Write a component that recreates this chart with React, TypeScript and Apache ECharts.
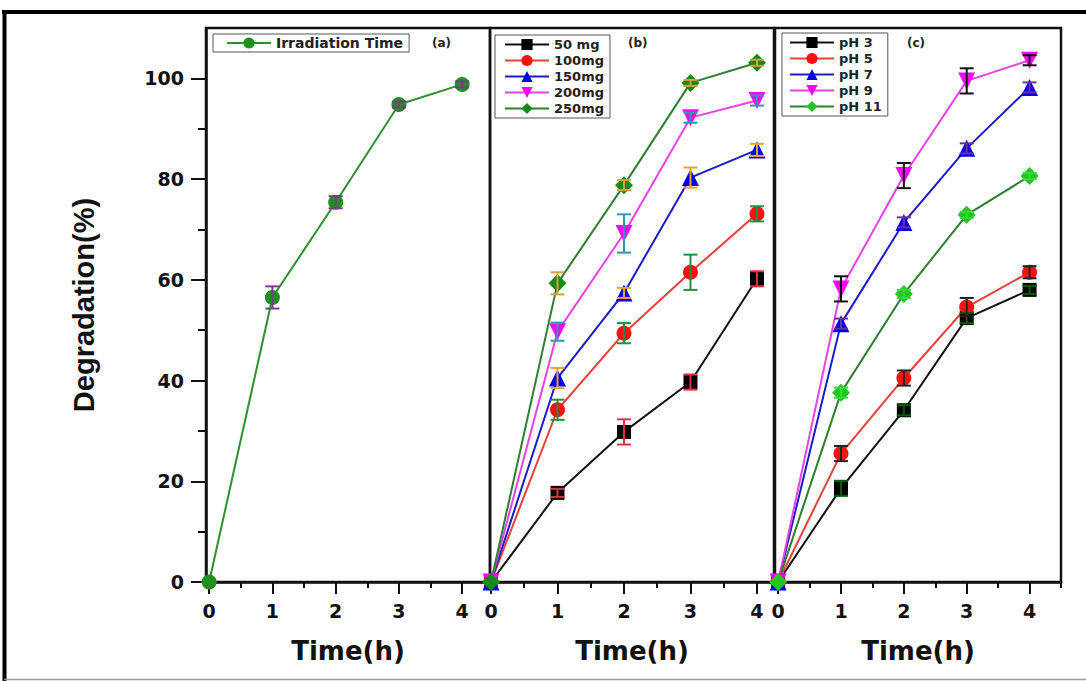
import { useEffect, useRef } from "react";
import * as echarts from "echarts";

// ---- data ----
const timeHours = [0, 1, 2, 3, 4];

// (a) effect of irradiation time
const irradiation = [0, 56.5, 75.4, 94.8, 98.8];
const irradiationErr = [0, 2.2, 1.2, 0.6, 0.6];

// (b) effect of catalyst dose
const doseNames = ["50 mg", "100mg", "150mg", "200mg", "250mg"];
const dose50 = [0, 17.7, 29.8, 39.7, 60.2];
const dose50Err = [0, 0.8, 2.5, 1.5, 1.5];
const dose100 = [0, 34.2, 49.4, 61.5, 73.1];
const dose100Err = [0, 2.0, 2.0, 3.5, 1.5];
const dose150 = [0, 40.5, 57.4, 80.3, 85.8];
const dose150Err = [0, 2.0, 1.0, 2.0, 1.2];
const dose200 = [0, 49.7, 69.2, 92.2, 95.6];
const dose200Err = [0, 1.8, 3.8, 1.0, 1.0];
const dose250 = [0, 59.3, 78.8, 99.1, 103.1];
const dose250Err = [0, 2.2, 1.0, 0.6, 0.6];

// (c) effect of pH
const phNames = ["pH 3", "pH 5", "pH 7", "pH 9", "pH 11"];
const ph3 = [0, 18.6, 34.1, 52.4, 58.0];
const ph3Err = [0, 1.5, 1.0, 1.0, 0.8];
const ph5 = [0, 25.5, 40.5, 54.6, 61.5];
const ph5Err = [0, 1.5, 1.5, 1.8, 1.2];
const ph7 = [0, 51.3, 71.4, 86.1, 98.2];
const ph7Err = [0, 1.0, 1.0, 1.0, 1.0];
const ph9 = [0, 58.2, 80.7, 99.5, 103.6];
const ph9Err = [0, 2.5, 2.5, 2.5, 1.0];
const ph11 = [0, 37.6, 57.2, 72.9, 80.6];
const ph11Err = [0, 1.0, 0.8, 0.6, 0.6];

// axis ticks
const yTicks = [0, 20, 40, 60, 80, 100];
const yMinorTicks = [10, 30, 50, 70, 90];
const xTicks = [0, 1, 2, 3, 4];
const xMinorTicks = [0.5, 1.5, 2.5, 3.5, 4.5];
const panelLabels = ["(a)", "(b)", "(c)"];

// ---- styling ----
type Look = {
  symbol: string;
  size: number;
  rotate?: number;
  color: string;
  line: string;
  err: string;
};

const squareLook = { symbol: "rect", size: 14, color: "#000000", line: "#111111" };
const circleLook = { symbol: "circle", size: 15, color: "#ff1010", line: "#e8403a" };
const upLook = { symbol: "triangle", size: 17, color: "#0000ee", line: "#1a1acc" };
const downLook = { symbol: "triangle", size: 17, rotate: 180, color: "#ff00ff", line: "#e642e6" };
const diamondLook = { symbol: "diamond", size: 18, color: "#158a15", line: "#2e7d32" };

const irradiationLook: Look = { symbol: "circle", size: 15, color: "#1f8f1f", line: "#2f8f2f", err: "#7a3a8a" };
const doseLooks: Look[] = [
  { ...squareLook, err: "#e03040" },
  { ...circleLook, err: "#1a9040" },
  { ...upLook, err: "#f0a030" },
  { ...downLook, err: "#2a9ab0" },
  { ...diamondLook, err: "#d8a040" },
];
const phLooks: Look[] = [
  { ...squareLook, err: "#0a5a0a" },
  { ...circleLook, err: "#222222" },
  { ...upLook, err: "#7030a0" },
  { ...downLook, err: "#111111" },
  { ...diamondLook, color: "#22c522", err: "#33dd33" },
];

const FONT = "DejaVu Sans";
const INK = "#111111";

// panel geometry: [left, width, xMin, xMax]
const panels: [number, number, number, number][] = [
  [206, 284, -0.05, 4.44],
  [490, 284, -0.015, 4.256],
  [775, 286, -0.05, 4.5],
];
const GRID_TOP = 28;
const GRID_HEIGHT = 554;

function buildSeries(
  name: string,
  values: number[],
  errors: number[],
  look: Look,
  panel: number
): any[] {
  const points = timeHours.map((t, i) => [t, values[i]]);
  const bars = timeHours
    .map((t, i) => [t, values[i] - errors[i], values[i] + errors[i]])
    .filter((_, i) => errors[i] > 0);
  const line = {
    type: "line",
    name,
    xAxisIndex: panel,
    yAxisIndex: panel,
    data: points,
    symbol: look.symbol,
    symbolSize: look.size,
    symbolRotate: look.rotate ?? 0,
    clip: false,
    itemStyle: { color: look.color },
    lineStyle: { color: look.line, width: 2 },
    z: 3,
  };
  const errorBars = {
    type: "custom",
    name: name + " ±",
    xAxisIndex: panel,
    yAxisIndex: panel,
    data: bars,
    encode: { x: 0, y: [1, 2] },
    clip: false,
    z: 4,
    renderItem: (_params: any, api: any) => {
      const x = api.value(0);
      const top = api.coord([x, api.value(2)]);
      const bottom = api.coord([x, api.value(1)]);
      const w = 7;
      const style = { stroke: look.err, lineWidth: 2 };
      return {
        type: "group",
        children: [
          { type: "line", shape: { x1: top[0], y1: top[1], x2: bottom[0], y2: bottom[1] }, style },
          { type: "line", shape: { x1: top[0] - w, y1: top[1], x2: top[0] + w, y2: top[1] }, style },
          { type: "line", shape: { x1: bottom[0] - w, y1: bottom[1], x2: bottom[0] + w, y2: bottom[1] }, style },
        ],
      };
    },
  };
  return [line, errorBars];
}

function buildOption(): any {
  const tickFont = { fontFamily: FONT, fontWeight: "bold", fontSize: 19, color: INK };

  const grids = panels.map(([left, width]) => ({
    left,
    top: GRID_TOP,
    width,
    height: GRID_HEIGHT,
    show: true,
    borderColor: INK,
    borderWidth: 2.5,
    backgroundColor: "transparent",
    outerBoundsMode: "none",
    containLabel: false,
  }));

  const mainX = panels.map(([, , xMin, xMax], i) => ({
    type: "value",
    gridIndex: i,
    min: xMin,
    max: xMax,
    axisLine: { show: true, onZero: false, lineStyle: { color: INK, width: 2.5 } },
    axisTick: { show: true, length: 12, customValues: xTicks, lineStyle: { color: INK, width: 2 } },
    axisLabel: { show: true, margin: 19, customValues: xTicks, ...tickFont },
    splitLine: { show: false },
    name: "Time(h)",
    nameLocation: "middle",
    nameGap: 56,
    nameTextStyle: { fontFamily: FONT, fontWeight: "bold", fontSize: 26, color: INK },
  }));

  const minorX = panels.map(([, , xMin, xMax], i) => ({
    type: "value",
    gridIndex: i,
    position: "bottom",
    min: xMin,
    max: xMax,
    axisLine: { show: false, onZero: false },
    axisTick: {
      show: true,
      length: 6,
      customValues: xMinorTicks.filter((v) => v <= xMax + 1e-6),
      lineStyle: { color: INK, width: 2 },
    },
    axisLabel: { show: false },
    splitLine: { show: false },
  }));

  const mainY = panels.map((_, i) => ({
    type: "value",
    gridIndex: i,
    min: 0,
    max: 110,
    show: i === 0,
    axisLine: { show: true, onZero: false, lineStyle: { color: INK, width: 2.5 } },
    axisTick: { show: true, length: 15, customValues: yTicks, lineStyle: { color: INK, width: 2 } },
    axisLabel: { show: true, margin: 22, customValues: yTicks, ...tickFont },
    splitLine: { show: false },
    name: i === 0 ? "Degradation(%)" : "",
    nameLocation: "middle",
    nameGap: 108,
    nameTextStyle: { fontFamily: "Liberation Sans", fontWeight: "bold", fontSize: 29, color: INK },
  }));

  const minorY = {
    type: "value",
    gridIndex: 0,
    position: "left",
    min: 0,
    max: 110,
    axisLine: { show: false, onZero: false },
    axisTick: { show: true, length: 8, customValues: yMinorTicks, lineStyle: { color: INK, width: 2 } },
    axisLabel: { show: false },
    splitLine: { show: false },
  };

  const doseData = [dose50, dose100, dose150, dose200, dose250];
  const doseErrs = [dose50Err, dose100Err, dose150Err, dose200Err, dose250Err];
  const phData = [ph3, ph5, ph7, ph9, ph11];
  const phErrs = [ph3Err, ph5Err, ph7Err, ph9Err, ph11Err];

  const series: any[] = [
    ...buildSeries("Irradiation Time", irradiation, irradiationErr, irradiationLook, 0),
    ...doseNames.flatMap((n, i) => buildSeries(n, doseData[i], doseErrs[i], doseLooks[i], 1)),
    ...phNames.flatMap((n, i) => buildSeries(n, phData[i], phErrs[i], phLooks[i], 2)),
  ];

  const legendBase = {
    orient: "vertical",
    itemWidth: 44,
    itemHeight: 14,
    itemGap: 3,
    borderColor: "#555555",
    borderWidth: 1,
    borderRadius: 0,
    backgroundColor: "#ffffff",
    selectedMode: false,
    textStyle: { fontFamily: FONT, fontWeight: "bold", fontSize: 13, color: "#222222" },
    z: 10,
  };

  const legends = [
    {
      ...legendBase,
      data: ["Irradiation Time"],
      left: 213,
      top: 34,
      padding: [2, 6, 2, 13],
      textStyle: { ...legendBase.textStyle, fontSize: 14 },
    },
    { ...legendBase, data: doseNames, left: 495, top: 35, padding: [3, 6, 3, 9] },
    { ...legendBase, data: phNames, left: 782, top: 33, padding: [3, 6, 3, 7] },
  ];

  const labelX = [432, 628, 907];
  const graphic: any[] = [
    // outer frame
    { type: "line", shape: { x1: 2, y1: 12, x2: 1086, y2: 12 }, style: { stroke: "#000", lineWidth: 4 } },
    { type: "line", shape: { x1: 4.5, y1: 10, x2: 4.5, y2: 681 }, style: { stroke: "#000", lineWidth: 4 } },
    { type: "line", shape: { x1: 4, y1: 679.5, x2: 1086, y2: 679.5 }, style: { stroke: "#9a9a9a", lineWidth: 1.5 } },
    ...panelLabels.map((t, i) => ({
      type: "text",
      left: labelX[i],
      top: 37,
      z: 20,
      style: { text: t, fontFamily: FONT, fontWeight: "bold", fontSize: 12, fill: "#222" },
    })),
  ];

  return {
    animation: false,
    backgroundColor: "#ffffff",
    grid: grids,
    xAxis: [...mainX, ...minorX],
    yAxis: [...mainY, minorY],
    legend: legends,
    series,
    graphic,
  };
}

export default function App() {
  const ref = useRef<HTMLDivElement>(null);
  useEffect(() => {
    if (!ref.current) return;
    const chart = echarts.init(ref.current, undefined, { renderer: "svg" });
    chart.setOption(buildOption());
    return () => chart.dispose();
  }, []);
  return (
    <div
      ref={ref}
      style={{ position: "absolute", left: 0, top: 0, width: 1086, height: 681 }}
    />
  );
}
